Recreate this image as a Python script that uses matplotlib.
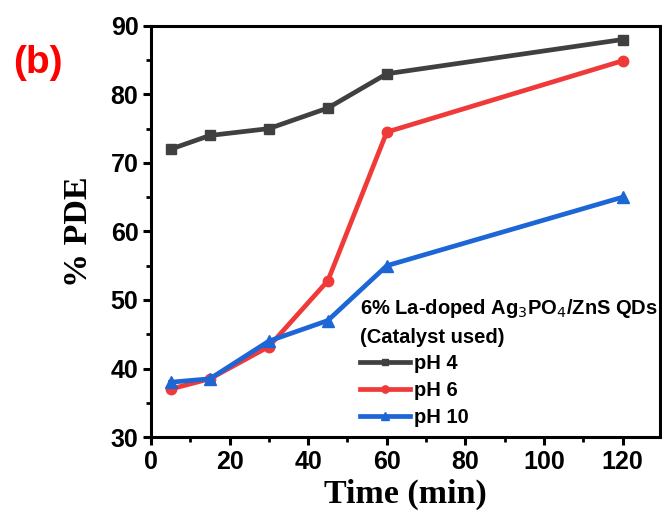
import matplotlib
matplotlib.use("Agg")
import matplotlib.pyplot as plt
from matplotlib.ticker import MultipleLocator

time = [5, 15, 30, 45, 60, 120]
ph4 = [72, 74, 75, 78, 83, 88]
ph6 = [37, 38.5, 43.2, 52.8, 74.5, 84.9]
ph10 = [38, 38.5, 44, 47, 55, 65]

fig = plt.figure(figsize=(6.62, 5.16), dpi=100)
ax = fig.add_axes([0.228, 0.153, 0.769, 0.797])

lw = 3.4
ax.plot(time, ph4, color="#404040", marker="s", ms=7, lw=lw, label="pH 4")
ax.plot(time, ph6, color="#f03a3a", marker="o", ms=7.5, lw=lw, label="pH 6")
ax.plot(time, ph10, color="#1d66d6", marker="^", ms=8, lw=lw, label="pH 10")

ax.set_xlim(0, 129.5)
ax.set_ylim(30, 90)
ax.xaxis.set_major_locator(MultipleLocator(20))
ax.xaxis.set_minor_locator(MultipleLocator(10))
ax.yaxis.set_major_locator(MultipleLocator(10))
ax.yaxis.set_minor_locator(MultipleLocator(5))
for s in ax.spines.values():
    s.set_linewidth(2.2)
ax.tick_params(which="major", direction="out", length=6, width=2.2, labelsize=18, pad=3)
ax.tick_params(which="minor", direction="out", length=3.5, width=2)
for lab in ax.get_xticklabels() + ax.get_yticklabels():
    lab.set_fontweight("bold")
    lab.set_fontfamily("Liberation Sans")

ax.set_xlabel("Time (min)", fontfamily="Liberation Serif", fontweight="bold", fontsize=24.5, labelpad=4)
ax.set_ylabel("% PDE", fontfamily="Liberation Serif", fontweight="bold", fontsize=24.5, labelpad=12)

leg = ax.legend(loc="lower left", bbox_to_anchor=(0.41, 0.025), frameon=False,
                title="6% La-doped Ag$_3$PO$_4$/ZnS QDs\n(Catalyst used)",
                prop={"family": "Liberation Sans", "weight": "bold", "size": 14.5},
                handlelength=2.5, handletextpad=0.2, labelspacing=0.38,
                borderpad=0, borderaxespad=0, markerscale=0.7)
leg.get_title().set_fontfamily("Liberation Sans")
leg.get_title().set_fontweight("bold")
leg.get_title().set_fontsize(14.5)
leg.get_title().set_linespacing(1.5)
leg._legend_box.align = "left"

fig.text(0.057, 0.878, "(b)", color="#ff0000", fontsize=28, fontweight="bold",
         fontfamily="Liberation Sans", ha="center", va="center")

fig.savefig("out.png", dpi=100)
